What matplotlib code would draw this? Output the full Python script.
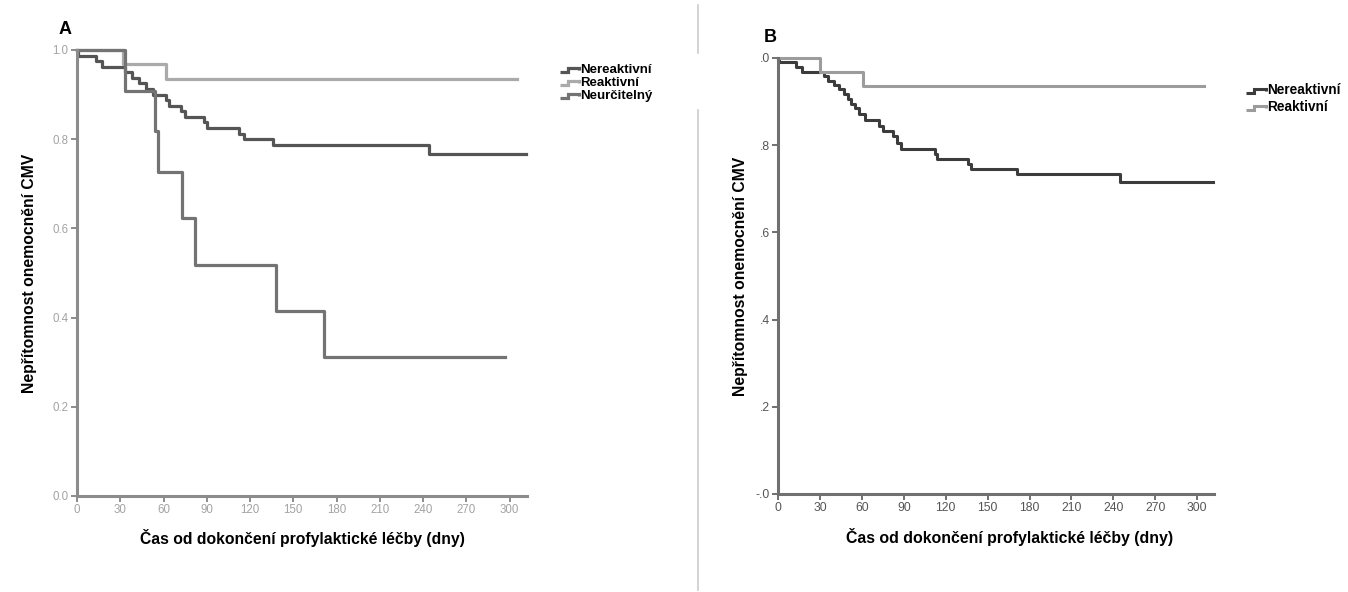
import numpy as np
import matplotlib
matplotlib.use("Agg")
import matplotlib.pyplot as plt
from matplotlib.lines import Line2D
from matplotlib.legend_handler import HandlerBase
from matplotlib import font_manager

# --- data ---
# panel A
a_ner_days = [0, 1, 13, 17, 33, 38, 43, 48, 53, 62, 64, 72, 75, 88, 90, 112, 116, 136, 244, 311]
a_ner_surv = [1.0, 0.9875, 0.975, 0.9625, 0.95, 0.9375, 0.925, 0.9125, 0.90, 0.8875, 0.875,
              0.8625, 0.85, 0.8375, 0.825, 0.8125, 0.80, 0.7875, 0.7675, 0.7675]
a_rea_days = [0, 32, 62, 305]
a_rea_surv = [1.0, 0.968, 0.935, 0.935]
a_neu_days = [0, 33, 54, 56, 73, 82, 138, 171, 297]
a_neu_surv = [1.0, 0.909, 0.818, 0.727, 0.623, 0.519, 0.415, 0.311, 0.311]

# panel B
b_ner_days = [0, 1, 13, 17, 33, 36, 40, 44, 47, 50, 52, 55, 58, 62, 72, 75, 82, 85, 88,
              112, 114, 136, 138, 171, 245, 311]
b_ner_surv = [1.0, 0.99, 0.98, 0.967, 0.958, 0.948, 0.938, 0.928, 0.918, 0.906, 0.895, 0.885,
              0.872, 0.858, 0.845, 0.832, 0.82, 0.805, 0.792, 0.78, 0.768, 0.757, 0.746,
              0.733, 0.716, 0.716]
b_rea_days = [0, 30, 61, 305]
b_rea_surv = [1.0, 0.968, 0.935, 0.935]

labels_a = ["Nereaktivní", "Reaktivní", "Neurčitelný"]
labels_b = ["Nereaktivní", "Reaktivní"]
x_ticks = list(range(0, 301, 30))
y_ticks = [0.0, 0.2, 0.4, 0.6, 0.8, 1.0]
y_labels_a = ["0.0", "0.2", "0.4", "0.6", "0.8", "1.0"]
y_labels_b = ["-.0", ".2", ".4", ".6", ".8", ".0"]

xlabel = "Čas od dokončení profylaktické léčby (dny)"
ylabel = "Nepřítomnost onemocnění CMV"

plt.rcParams['font.family'] = ['Liberation Sans', 'DejaVu Sans']
names = {f.name for f in font_manager.fontManager.ttflist}
narrow = 'Liberation Sans Narrow' if 'Liberation Sans Narrow' in names else 'Liberation Sans'

W, H = 1348, 592
fig = plt.figure(figsize=(W / 100, H / 100), dpi=100)


def px_axes(x0, y_top, x1, y_bot):
    return fig.add_axes([x0 / W, 1 - y_bot / H, (x1 - x0) / W, (y_bot - y_top) / H])


class StepHandler(HandlerBase):
    def create_artists(self, legend, orig_handle, xdescent, ydescent, width, height, fontsize, trans):
        xs = np.array([0, 0.4, 0.4, 1.0, 1.0]) * width - xdescent
        ys = np.array([0.1, 0.1, 0.5, 0.5, 0.3]) * height - ydescent
        ln = Line2D(xs, ys, color=orig_handle.get_color(), lw=orig_handle.get_linewidth(),
                    solid_joinstyle='miter', solid_capstyle='butt')
        ln.set_transform(trans)
        return [ln]


def style_axes(ax, spine_col, tick_col, tick_size, ylabels, tick_family):
    for s in ['top', 'right']:
        ax.spines[s].set_visible(False)
    for s in ['left', 'bottom']:
        ax.spines[s].set_color(spine_col)
        ax.spines[s].set_linewidth(2.2)
    ax.set_xlim(0, 312)
    ax.set_ylim(0, 1.0)
    ax.set_xticks(x_ticks)
    ax.set_yticks(y_ticks)
    ax.set_yticklabels(ylabels)
    ax.tick_params(direction='out', length=4, width=1.4, color=spine_col,
                   labelcolor=tick_col, labelsize=tick_size, pad=2)
    for lab in ax.get_xticklabels() + ax.get_yticklabels():
        lab.set_family(tick_family)


# ---------- panel A ----------
axA = px_axes(77, 50, 527, 496)
cols_a = ['#555555', '#aaaaaa', '#737373']
hA = []
for d, s, c in zip([a_ner_days, a_rea_days, a_neu_days],
                   [a_ner_surv, a_rea_surv, a_neu_surv], cols_a):
    ln, = axA.step(d, s, where='post', color=c, lw=2.3, clip_on=False)
    hA.append(ln)
style_axes(axA, '#8c8c8c', '#a3a3a3', 8.3, y_labels_a, ['Liberation Sans'])
axA.set_xlabel(xlabel, fontsize=11.3, fontweight='bold', va='center')
axA.xaxis.set_label_coords(0.5, -0.094)
axA.set_ylabel(ylabel, fontsize=11.3, fontweight='bold', va='center')
axA.yaxis.set_label_coords(-0.1056, 0.5)
fig.text(59 / W, 1 - 30 / H, "A", fontsize=13, fontweight='bold', va='center', ha='left')
fig.legend(hA, labels_a, handler_map={Line2D: StepHandler()}, loc='upper left',
           bbox_to_anchor=(553 / W, 1 - 57 / H), frameon=False, handlelength=1.5,
           handletextpad=0.05, labelspacing=0.05, borderpad=0,
           prop={'weight': 'bold', 'size': 9.5})

# ---------- panel B ----------
axB = px_axes(778, 58, 1214, 494)
cols_b = ['#3c3c3c', '#9c9c9c']
hB = []
for d, s, c in zip([b_ner_days, b_rea_days], [b_ner_surv, b_rea_surv], cols_b):
    ln, = axB.step(d, s, where='post', color=c, lw=2.2, clip_on=False)
    hB.append(ln)
style_axes(axB, '#707070', '#555555', 8.7, y_labels_b, [narrow, 'Liberation Sans'])
axB.set_xlabel(xlabel, fontsize=11.4, fontweight='bold', va='center')
axB.xaxis.set_label_coords(0.532, -0.099)
axB.set_ylabel(ylabel, fontsize=11.3, fontweight='bold', va='center')
axB.yaxis.set_label_coords(-0.085, 0.5)
fig.text(764 / W, 1 - 37 / H, "B", fontsize=13, fontweight='bold', va='center', ha='left')
fig.legend(hB, labels_b, handler_map={Line2D: StepHandler()}, loc='upper left',
           bbox_to_anchor=(1239 / W, 1 - 76 / H), frameon=False, handlelength=1.5,
           handletextpad=0.1, labelspacing=0.2, borderpad=0,
           prop={'weight': 'bold', 'size': 9.8, 'family': [narrow, 'Liberation Sans']})

# separator between panels
fig.add_artist(Line2D([698 / W, 698 / W], [1 - 5 / H, 1 - 53 / H], color='#cccccc', lw=1.2))
fig.add_artist(Line2D([698 / W, 698 / W], [1 - 110 / H, 1 - 590 / H], color='#cccccc', lw=1.2))

fig.savefig("out.png", dpi=100)
